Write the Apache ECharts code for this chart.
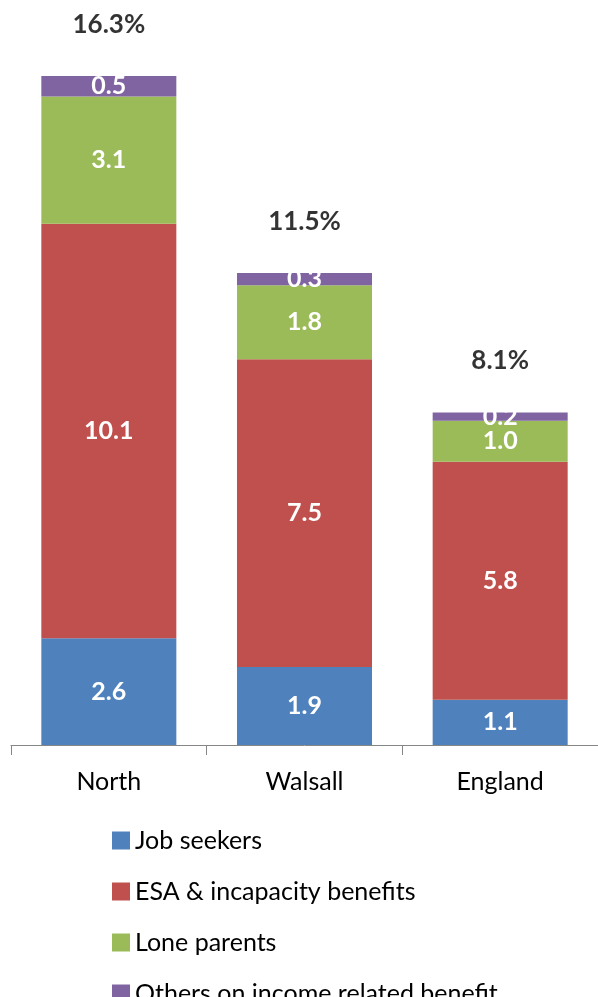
<!DOCTYPE html>
<html>
<head>
<meta charset="utf-8">
<script src="https://cdn.jsdelivr.net/npm/echarts@6/dist/echarts.min.js"></script>
<style>
  html, body { margin: 0; padding: 0; background: #fff; }
  #chart { width: 598px; height: 997px; }
</style>
</head>
<body>
<div id="chart"></div>
<script>
const categories = ['North', 'Walsall', 'England']
const jobSeekers = [2.6, 1.9, 1.1]
const esaIncapacity = [10.1, 7.5, 5.8]
const loneParents = [3.1, 1.8, 1.0]
const othersIncome = [0.5, 0.3, 0.2]
const totals = [16.3, 11.5, 8.1]

const font = 'Lato'

{
    let view = document.getElementById('chart')
    let myChart = echarts.init(view)

    let segLabel = {
        show: true,
        position: 'inside',
        color: '#ffffff',
        fontWeight: 'bold',
        fontSize: 25,
        fontFamily: font,
        formatter: p => p.value.toFixed(1)
    }
    let makeBar = (name, data, color) => ({
        name: name,
        type: 'bar',
        stack: 'total',
        data: data,
        barWidth: '69%',
        itemStyle: { color: color },
        label: segLabel
    })

    let option = {
        animation: false,
        grid: { left: 11, right: 0, top: 76, bottom: 252 },
        legend: {
            orient: 'vertical',
            left: 107,
            top: 823,
            height: 200,
            itemWidth: 18,
            itemHeight: 18,
            itemGap: 26,
            icon: 'rect',
            textStyle: { fontSize: 25, fontFamily: font, color: '#000', lineHeight: 22 },
            data: ['Job seekers', 'ESA & incapacity benefits', 'Lone parents', 'Others on income related benefit']
        },
        xAxis: {
            type: 'category',
            data: categories,
            axisLine: { lineStyle: { color: '#868686', width: 1 } },
            axisTick: { show: true, length: 10, interval: 0, lineStyle: { color: '#868686' } },
            axisLabel: { fontSize: 25, fontFamily: font, color: '#000', margin: 24 }
        },
        yAxis: { type: 'value', min: 0, max: 16.3, show: false },
        series: [
            makeBar('Job seekers', jobSeekers, '#4f81bd'),
            makeBar('ESA & incapacity benefits', esaIncapacity, '#c0504d'),
            makeBar('Lone parents', loneParents, '#9bbb59'),
            makeBar('Others on income related benefit', othersIncome, '#8064a2'),
            {
                name: 'total',
                type: 'scatter',
                data: totals,
                symbolSize: 1,
                itemStyle: { color: 'rgba(0,0,0,0)' },
                label: {
                    show: true,
                    position: 'top',
                    distance: 38,
                    color: '#000',
                    fontWeight: 'bold',
                    fontSize: 26,
                    fontFamily: font,
                    formatter: p => p.value.toFixed(1) + '%'
                }
            }
        ]
    }
    myChart.setOption(option)
}
</script>
</body>
</html>
